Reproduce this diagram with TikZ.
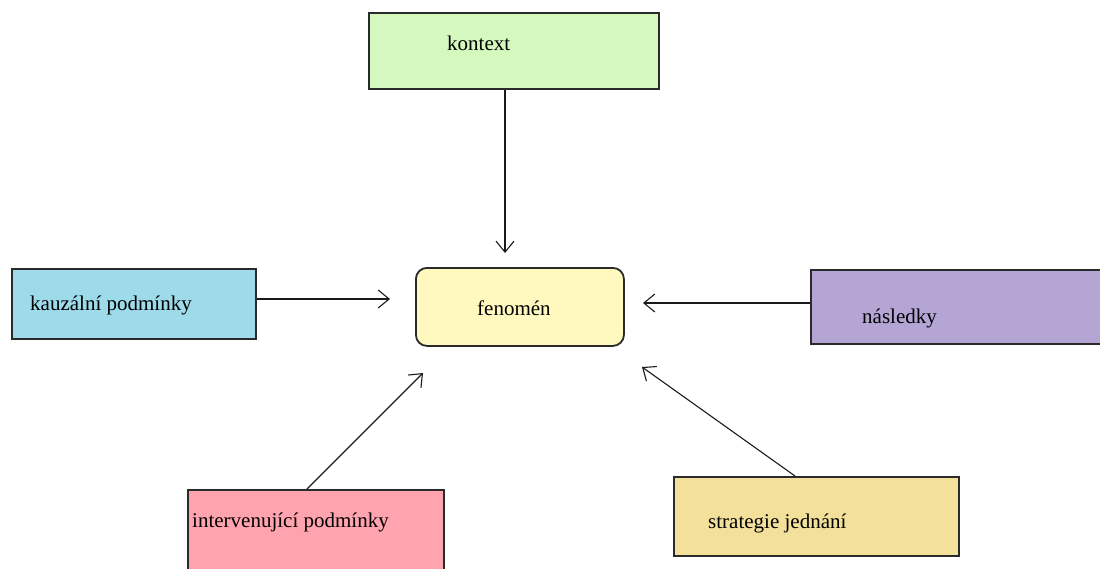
\documentclass[tikz,border=0pt]{standalone}
\usepackage{fontspec}
\setmainfont{Liberation Serif}
\usetikzlibrary{arrows.meta,calc}
\definecolor{cKontext}{HTML}{D5F8BE}
\definecolor{cKauz}{HTML}{9DDAEA}
\definecolor{cFen}{HTML}{FFF9BF}
\definecolor{cNasl}{HTML}{B4A5D5}
\definecolor{cInt}{HTML}{FFA3AE}
\definecolor{cStrat}{HTML}{F3E19B}
\definecolor{boxline}{HTML}{2A2A2A}
\definecolor{arrline}{HTML}{1A1A1A}
\begin{document}
\begin{tikzpicture}[x=1pt,y=-1pt,
  box/.style={draw=boxline, line width=1.8pt, anchor=north west, inner sep=0pt},
  lbl/.style={anchor=base west, inner sep=0pt, font=\fontsize{21}{25}\selectfont},
  arr/.style={draw=arrline, line width=1.1pt, -{Straight Barb[length=11pt,width=18pt]}}]
\useasboundingbox (0,0) rectangle (1100,568);
% boxes
\node[box, fill=cKontext, minimum width=290pt, minimum height=76pt] (kontext) at (368,12) {};
\node[box, fill=cKauz, minimum width=244pt, minimum height=70pt] (kauz) at (11,268) {};
\node[box, fill=cFen, rounded corners=11pt, minimum width=208pt, minimum height=78pt] (fen) at (415,267) {};
\node[box, fill=cNasl, minimum width=310pt, minimum height=74pt] (nasl) at (810,269) {};
\node[box, fill=cInt, minimum width=256pt, minimum height=100pt] (interv) at (187,489) {};
\node[box, fill=cStrat, minimum width=285pt, minimum height=79pt] (strat) at (673,476) {};
% labels
\node[lbl] (kontextT) at (447,50) {kontext};
\node[lbl] (kauzT) at (30,310) {kauzální podmínky};
\node[lbl] (fenT) at (477,315) {fenomén};
\node[lbl] (naslT) at (862,323) {následky};
\node[lbl] (intervT) at (192,527) {intervenující podmínky};
\node[lbl] (stratT) at (708,528) {strategie jednání};
% connectors
\coordinate (tipK) at (505,253);
\coordinate (tipC) at (390,299);
\coordinate (tipN) at (643,303);
\coordinate (tipI) at (423,373);
\coordinate (tipS) at (642,367);
\draw[arr] (kontext.south -| tipK) -- (tipK);
\draw[arr] (kauz.east |- tipC) -- (tipC);
\draw[arr] (nasl.west |- tipN) -- (tipN);
\draw[arr] ($(interv.north west)+(120,0)$) -- (tipI);
\draw[arr] ($(strat.north west)+(122,0)$) -- (tipS);
\end{tikzpicture}
\end{document}
